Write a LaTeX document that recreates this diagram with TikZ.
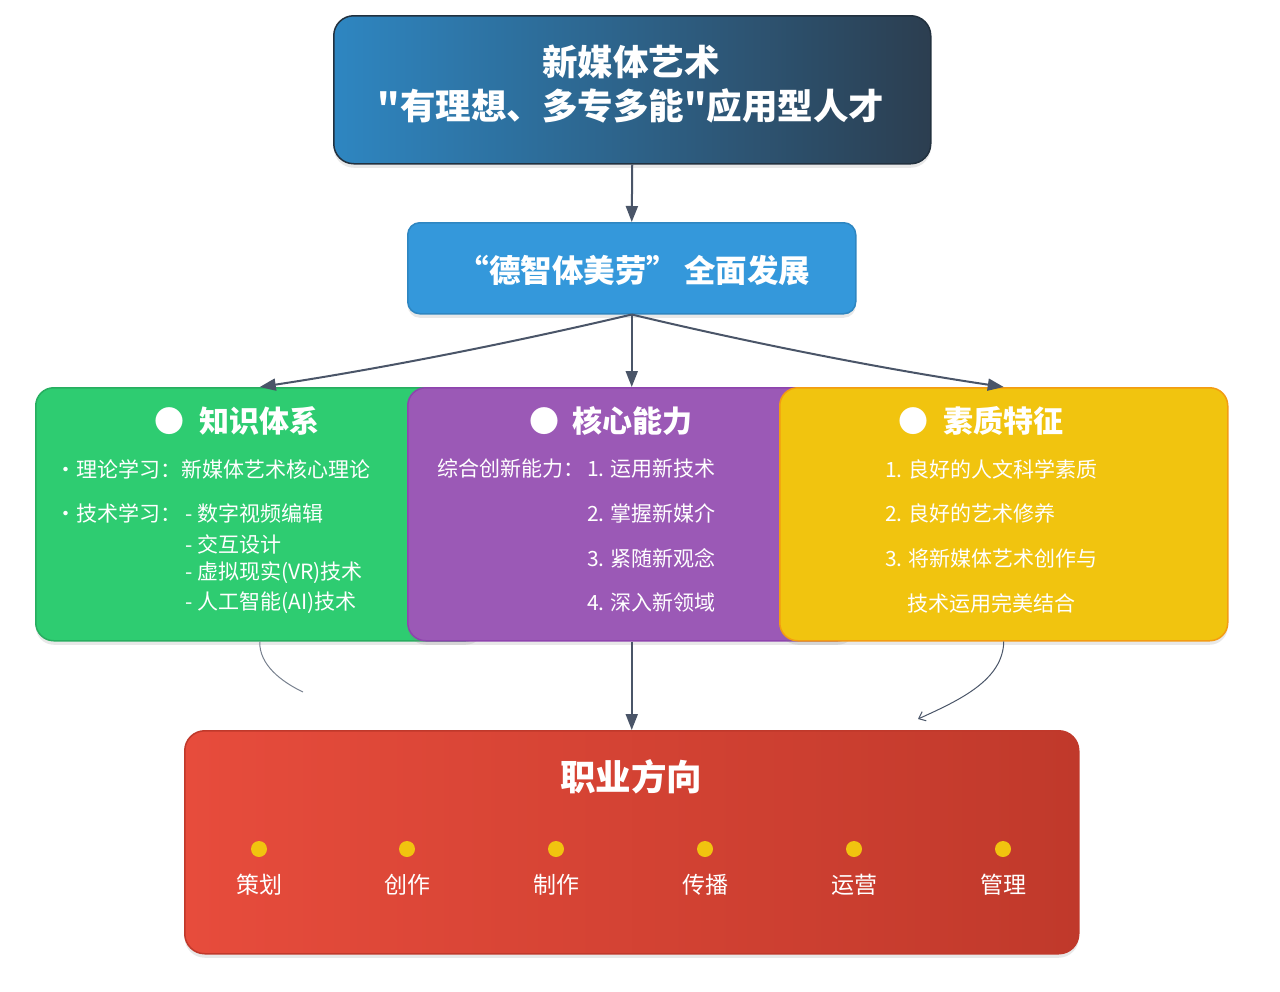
\documentclass[tikz,border=0pt]{standalone}
\usepackage{fontspec}
\setmainfont{Noto Sans CJK SC}
\newfontfamily\cjkplain{Noto Sans CJK SC}
\usetikzlibrary{arrows.meta,shadows}
\definecolor{topL}{HTML}{2E86C1}
\definecolor{topR}{HTML}{2C3E50}
\definecolor{topB}{HTML}{22313F}
\definecolor{midF}{HTML}{3498DB}
\definecolor{midB}{HTML}{2E86C1}
\definecolor{grnF}{HTML}{2ECC71}
\definecolor{grnB}{HTML}{27AE60}
\definecolor{purF}{HTML}{9B59B6}
\definecolor{purB}{HTML}{8E44AD}
\definecolor{yelF}{HTML}{F1C40F}
\definecolor{yelB}{HTML}{F39C12}
\definecolor{redL}{HTML}{E74C3C}
\definecolor{redR}{HTML}{C0392B}
\definecolor{redB}{HTML}{C0392B}
\definecolor{arrowc}{HTML}{4A5568}
\begin{document}
\begin{tikzpicture}[x=1pt,y=-1pt,
  box/.style={rounded corners=18pt, line width=1.5pt, inner sep=0pt, anchor=north west,
    drop shadow={shadow xshift=0pt,shadow yshift=-4pt,opacity=0.18}},
  conn/.style={draw=arrowc, line width=2pt, -{Triangle[length=16pt,width=12pt]}},
  thinconn/.style={draw=arrowc, line width=1pt},
  bigtitle/.style={text=white, font=\cjkplain\fontsize{35.5}{44}\selectfont\bfseries, inner sep=0pt, align=center},
  head/.style={text=white, font=\fontsize{30}{36}\selectfont\bfseries, inner sep=0pt},
  body/.style={text=white, font=\fontsize{21}{25}\selectfont, inner sep=0pt, anchor=west},
  job/.style={text=white, font=\fontsize{23}{27}\selectfont, inner sep=0pt},
  jobdot/.style={circle, fill=yelF, minimum size=16pt, inner sep=0pt}
]
\useasboundingbox (0,0) rectangle (1280,991);

% top box
\node[box, rounded corners=20pt, left color=topL, right color=topR, draw=topB,
  minimum width=597pt, minimum height=148pt] (top) at (333,15) {};
\node[bigtitle] (toptext) at (631,84) {新媒体艺术\\"有理想、多专多能"应用型人才};

% middle box
\node[box, rounded corners=12pt, fill=midF, draw=midB,
  minimum width=448pt, minimum height=91pt] (mid) at (407,222) {};
\node[text=white, font=\fontsize{31.5}{36}\selectfont\bfseries, inner sep=0pt] (midtext) at (634,270) {“德智体美劳”\hspace{6pt}全面发展};

% three boxes
\node[box, fill=grnF, draw=grnB, minimum width=448pt, minimum height=253pt] (green) at (35,387) {};
\node[box, fill=purF, draw=purB, minimum width=448pt, minimum height=253pt] (purple) at (407,387) {};
\node[box, fill=yelF, draw=yelB, minimum width=448pt, minimum height=253pt] (yellow) at (779,387) {};

% red box
\node[box, rounded corners=20pt, left color=redL, right color=redR, draw=redB,
  minimum width=894pt, minimum height=223pt] (red) at (184,730) {};

% headings
\node[head] (gbul) at (169,421) {●};
\node[head, anchor=west] (ghead) at (199,421) {知识体系};
\node[head] (pbul) at (544,421) {●};
\node[head, anchor=west] (phead) at (572,421) {核心能力};
\node[head] (ybul) at (913,421) {●};
\node[head, anchor=west] (yhead) at (943,421) {素质特征};

% green body
\node[body] (g1) at (55,469) {·理论学习：新媒体艺术核心理论};
\node[body] (g2) at (55,513) {·技术学习：};
\node[body] (g3) at (185,513) {- 数字视频编辑};
\node[body] (g4) at (185,544) {- 交互设计};
\node[body] (g5) at (185,573) {- 虚拟现实(VR)技术};
\node[body] (g6) at (185,603) {- 人工智能(AI)技术};

% purple body
\node[body] (p0) at (437,469) {综合创新能力：};
\node[body] (p1) at (587,469) {1. 运用新技术};
\node[body] (p2) at (587,513) {2. 掌握新媒介};
\node[body] (p3) at (587,558) {3. 紧随新观念};
\node[body] (p4) at (587,603) {4. 深入新领域};

% yellow body
\node[body] (y1) at (885,469) {1. 良好的人文科学素质};
\node[body] (y2) at (885,513) {2. 良好的艺术修养};
\node[body] (y3) at (885,558) {3. 将新媒体艺术创作与};
\node[body] (y4) at (907,603) {技术运用完美结合};

% red content
\node[bigtitle] (redtitle) at (631,777) {职业方向};
\foreach \x/\t/\n in {259/策划/a,407/创作/b,556/制作/c,705/传播/d,854/运营/e,1003/管理/f}{
  \node[jobdot] (dot\n) at (\x,849) {};
  \node[job] (job\n) at (\x,885) {\t};
}

% connectors
\draw[conn] (top.south) -- (mid.north);
\draw[conn] (mid.south) -- (purple.north);
\draw[conn] (mid.south) .. controls (511,343) and (379,369) .. (green.north);
\draw[conn] (mid.south) .. controls (751,343) and (883,369) .. (yellow.north);
\draw[conn] (purple.south) -- (red.north);

\coordinate (lEnd) at (303,692);
\coordinate (rEnd) at (918,719);
\draw[thinconn, draw=arrowc!75] (green.south) .. controls (259,665) and (282,682) .. (lEnd);
\draw[thinconn, -{Straight Barb[length=6pt,width=10pt]}] (yellow.south) .. controls (1003,680) and (960,700) .. (rEnd);
\end{tikzpicture}
\end{document}
